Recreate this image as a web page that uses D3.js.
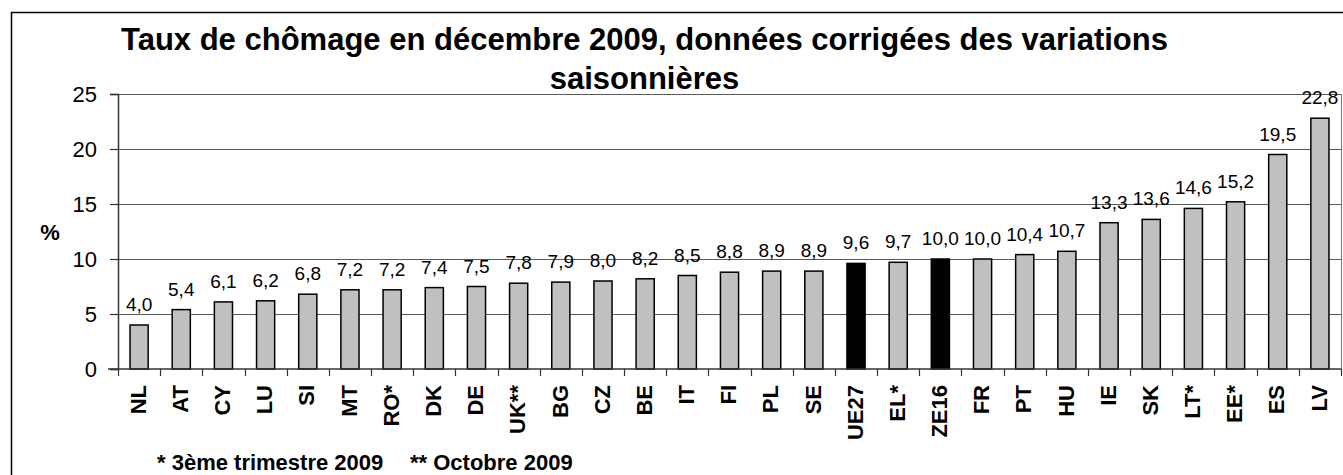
<!DOCTYPE html>
<html>
<head>
<meta charset="utf-8">
<script src="https://cdn.jsdelivr.net/npm/d3@7"></script>
<style>
  html, body { margin: 0; padding: 0; background: #fff; }
  svg { display: block; font-family: "Liberation Sans", Arial, sans-serif; }
</style>
</head>
<body>
<svg id="chart" width="1343" height="475"></svg>
<script>
const categories = ["NL","AT","CY","LU","SI","MT","RO*","DK","DE","UK**","BG","CZ","BE","IT","FI","PL","SE","UE27","EL*","ZE16","FR","PT","HU","IE","SK","LT*","EE*","ES","LV"];
const values = [4.0,5.4,6.1,6.2,6.8,7.2,7.2,7.4,7.5,7.8,7.9,8.0,8.2,8.5,8.8,8.9,8.9,9.6,9.7,10.0,10.0,10.4,10.7,13.3,13.6,14.6,15.2,19.5,22.8];
const highlighted = ["UE27","ZE16"];
const yTicks = [0,5,10,15,20,25];
const titleLines = ["Taux de chômage en décembre 2009, données corrigées des variations", "saisonnières"];
const yLabel = "%";
const footnotes = ["* 3ème trimestre 2009", "** Octobre 2009"];

const data = categories.map((c, i) => ({ cat: c, val: values[i] }));
const svg = d3.select("#chart");

const pLeft = 118, pRight = 1341, pTop = 94, pBottom = 369;
const x = d3.scaleBand().domain(categories).range([pLeft, pRight]).paddingInner(0.57).paddingOuter(0.285);
const y = d3.scaleLinear().domain([0, 25]).range([pBottom, pTop]);
const fmt = v => d3.format(".1f")(v).replace(".", ",");

// outer frame
svg.append("rect").attr("x", 11.5).attr("y", 12.5).attr("width", 1400).attr("height", 600)
  .attr("fill", "none").attr("stroke", "#000").attr("stroke-width", 1.5);

// title
svg.append("text").attr("x", 644.5).attr("y", 50).attr("text-anchor", "middle")
  .attr("font-size", 31).attr("font-weight", "bold").text(titleLines[0]);
svg.append("text").attr("x", 644.5).attr("y", 89).attr("text-anchor", "middle")
  .attr("font-size", 31).attr("font-weight", "bold").text(titleLines[1]);

// gridlines
svg.append("g").selectAll("line").data(yTicks.filter(t => t > 0)).join("line")
  .attr("x1", pLeft).attr("x2", pRight)
  .attr("y1", d => Math.round(y(d)) + 0.5).attr("y2", d => Math.round(y(d)) + 0.5)
  .attr("stroke", "#5a5a5a").attr("stroke-width", 1);

// right plot border
svg.append("line").attr("x1", pRight + 0.5).attr("x2", pRight + 0.5).attr("y1", y(25)).attr("y2", y(0))
  .attr("stroke", "#777").attr("stroke-width", 1);

// y axis
const yAxis = d3.axisLeft(y).tickValues(yTicks).tickSize(8).tickPadding(13).tickFormat(d => d);
const gy = svg.append("g").attr("transform", `translate(${pLeft},0)`).call(yAxis);
gy.select(".domain").attr("stroke", "#333").attr("stroke-width", 1.5);
gy.selectAll(".tick line").attr("stroke", "#333").attr("stroke-width", 1.2);
gy.selectAll(".tick text").attr("font-size", 22).attr("fill", "#000")
  .attr("font-family", "'Liberation Sans', Arial, sans-serif");

// bars
svg.append("g").selectAll("rect").data(data).join("rect")
  .attr("x", d => x(d.cat)).attr("width", x.bandwidth())
  .attr("y", d => y(d.val)).attr("height", d => y(0) - y(d.val))
  .attr("fill", d => highlighted.includes(d.cat) ? "#000" : "#c0c0c0")
  .attr("stroke", "#000").attr("stroke-width", 1.5);

// value labels
svg.append("g").selectAll("text").data(data).join("text")
  .attr("x", d => x(d.cat) + x.bandwidth() / 2)
  .attr("y", d => y(d.val) - 14)
  .attr("text-anchor", "middle").attr("font-size", 19).attr("fill", "#000")
  .text(d => fmt(d.val));

// x axis line
svg.append("line").attr("x1", pLeft - 10).attr("x2", pRight).attr("y1", y(0)).attr("y2", y(0))
  .attr("stroke", "#333").attr("stroke-width", 1.5);

// x tick marks at category boundaries
const half = (x.step() - x.bandwidth()) / 2;
const bounds = categories.map(c => x(c) - half).concat([x(categories[categories.length - 1]) + x.bandwidth() + half]);
svg.append("g").selectAll("line").data(bounds).join("line")
  .attr("x1", d => Math.round(d) + 0.5).attr("x2", d => Math.round(d) + 0.5)
  .attr("y1", y(0)).attr("y2", y(0) + 7)
  .attr("stroke", "#333").attr("stroke-width", 1.2);

// x labels
svg.append("g").selectAll("text").data(categories).join("text")
  .attr("transform", d => `translate(${x(d) + x.bandwidth() / 2 - 1},385) rotate(-90)`)
  .attr("text-anchor", "end").attr("dy", "0.35em")
  .attr("font-size", 22).attr("font-weight", "bold").attr("fill", "#000")
  .text(d => d);

// y label
svg.append("text").attr("x", 50).attr("y", 240).attr("text-anchor", "middle")
  .attr("font-size", 22).attr("font-weight", "bold").text(yLabel);

// footnotes
svg.append("text").attr("x", 157).attr("y", 470).attr("font-size", 22).attr("font-weight", "bold").text(footnotes[0]);
svg.append("text").attr("x", 410).attr("y", 470).attr("font-size", 22).attr("font-weight", "bold").text(footnotes[1]);
</script>
</body>
</html>
